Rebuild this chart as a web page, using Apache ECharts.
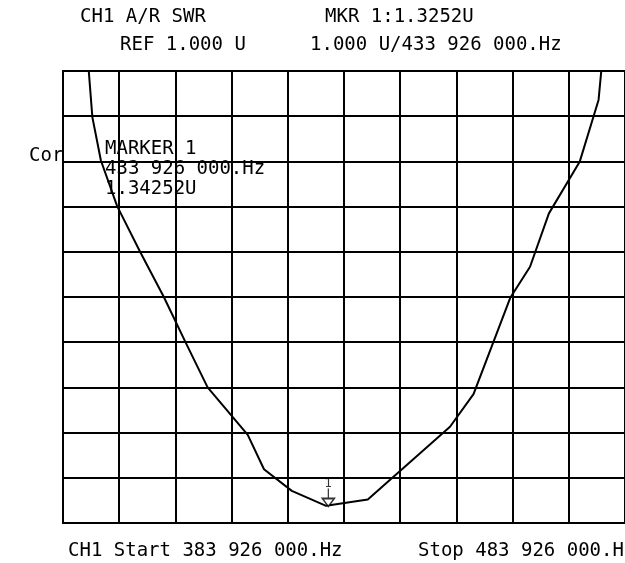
<!DOCTYPE html>
<html lang="en">
  <head>
    <meta charset="utf-8" />
    <title>CH1 A/R SWR</title>
    <style>
      * {
        margin: 0;
        padding: 0;
      }
      #chart-container {
        position: relative;
        height: 100vh;
        width: 100vw;
        overflow: hidden;
        background: #fff;
      }
    </style>
  </head>
  <body>
    <div id="chart-container"></div>
    <script src="https://fastly.jsdelivr.net/npm/echarts@6/dist/echarts.min.js"></script>
    <script>
      // sweep: 383.926 MHz .. 483.926 MHz, 10 MHz/div
      var startMHz = 383.926;
      var freqMHz = [
        388.51, 389.15, 390.67, 393.56, 397.64, 401.87, 405.76, 409.66,
        416.8, 419.69, 424.64, 430.74, 438.16, 452.79, 456.97, 463.54,
        467.03, 470.39, 475.86, 479.22, 479.69
      ];
      var swr = [
        11.0, 9.98, 9.02, 8.01, 7.0, 6.0, 4.99, 4.0,
        2.95, 2.19, 1.71, 1.38, 1.52, 3.13, 3.85, 5.99,
        6.67, 7.85, 8.99, 10.36, 10.98
      ];
      var markerMHz = 431.14;
      var markerSwr = 1.3425;

      var trace = freqMHz.map(function (f, i) {
        return [f - startMHz, swr[i]];
      });

      var font = "DejaVu Sans Mono";
      function txt(x, y, s) {
        return {
          type: "text",
          left: x,
          top: y,
          style: { text: s, font: "19px " + font, fill: "#000" },
        };
      }

      var dom = document.getElementById("chart-container");
      var myChart = echarts.init(dom, null, { renderer: "canvas" });
      var option = {
        animation: false,
        grid: {
          left: 63,
          top: 71,
          width: 574,
          height: 452,
          show: true,
          borderColor: "#000",
          borderWidth: 2,
        },
        xAxis: {
          type: "value",
          min: 0,
          max: 100,
          interval: 10,
          axisLabel: { show: false },
          axisTick: { show: false },
          axisLine: { show: false },
          splitLine: { lineStyle: { color: "#000", width: 2 } },
        },
        yAxis: {
          type: "value",
          min: 1,
          max: 11,
          interval: 1,
          axisLabel: { show: false },
          axisTick: { show: false },
          axisLine: { show: false },
          splitLine: { lineStyle: { color: "#000", width: 2 } },
        },
        graphic: [
          txt(80, 8, "CH1 A/R SWR"),
          txt(325, 8, "MKR 1:1.3252U"),
          txt(120, 36, "REF 1.000 U"),
          txt(310, 36, "1.000 U/433 926 000.Hz"),
          txt(29, 147, "Cor"),
          txt(105, 140, "MARKER 1"),
          txt(105, 160, "433 926 000.Hz"),
          txt(105, 180, "1.34252U"),
          txt(68, 542, "CH1 Start 383 926 000.Hz"),
          txt(418, 542, "Stop 483 926 000.Hz"),
        ],
        series: [
          {
            type: "line",
            data: trace,
            showSymbol: false,
            lineStyle: { color: "#000", width: 2 },
            clip: true,
          },
          {
            type: "scatter",
            data: [[markerMHz - startMHz, markerSwr]],
            symbol: "path://M6,0 L6,10 M1,10 L11,10 L6,18 Z",
            symbolSize: [12, 18],
            symbolOffset: [0, -10],
            itemStyle: { color: "#fff", borderColor: "#000", borderWidth: 1.5 },
            label: {
              show: true,
              position: "top",
              distance: -2,
              formatter: "1",
              color: "#000",
              fontFamily: "DejaVu Sans",
              fontSize: 12,
            },
            z: 5,
          },
        ],
      };
      myChart.setOption(option);
      window.addEventListener("resize", myChart.resize);
    </script>
  </body>
</html>
